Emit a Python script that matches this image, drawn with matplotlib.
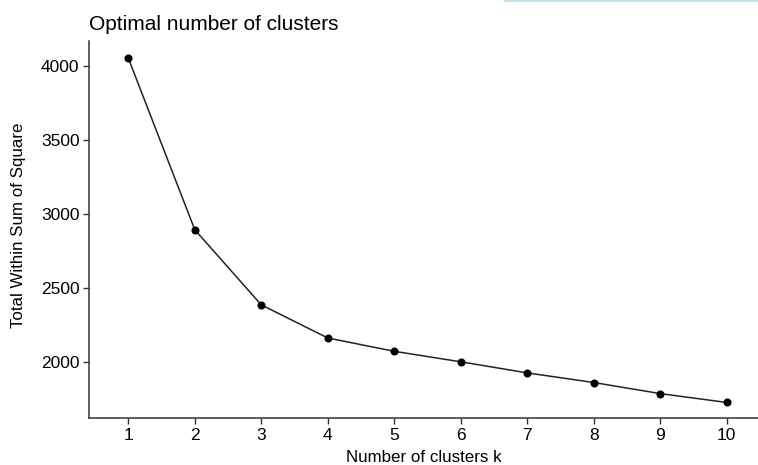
import matplotlib
matplotlib.use("Agg")
import matplotlib.pyplot as plt
from matplotlib.patches import Rectangle

plt.rcParams['font.family'] = ['Liberation Sans', 'DejaVu Sans']

k_values = [1, 2, 3, 4, 5, 6, 7, 8, 9, 10]
wss = [4054, 2893, 2385, 2161, 2071, 2000, 1925, 1860, 1785, 1725]
y_ticks = [2000, 2500, 3000, 3500, 4000]

fig = plt.figure(figsize=(7.58, 4.65), dpi=100)
ax = fig.add_axes([89.3 / 758, 1 - 418.3 / 465, 1 - 89.3 / 758, (418.3 - 40.7) / 465])

ink = '#222222'
ax.plot(k_values, wss, color=ink, linewidth=1.1, marker='o', markersize=4.8,
        markerfacecolor='black', markeredgecolor='black')

ax.set_xlim(0.414, 10.47)
ax.set_ylim(1618, 4171)
ax.set_xticks(k_values)
ax.set_yticks(y_ticks)

for side in ('top', 'right'):
    ax.spines[side].set_visible(False)
for side in ('left', 'bottom'):
    ax.spines[side].set_color('#333333')
    ax.spines[side].set_linewidth(1.1)

ax.tick_params(axis='both', direction='out', length=4, width=1, color='#333333',
               labelsize=12.5, labelcolor='black', pad=3)

ax.set_xlabel('Number of clusters k', fontsize=12.2, va='center')
ax.set_ylabel('Total Within Sum of Square', fontsize=12.2, va='center')
ax.xaxis.set_label_coords(0.5, -0.1025)
ax.yaxis.set_label_coords(-0.1066, 0.512)
ax.set_title('Optimal number of clusters', fontsize=15, loc='left', pad=8)

# thin light-blue band along the top edge on the right
fig.patches.append(Rectangle((504 / 758, 1 - 2 / 465), 254 / 758, 2 / 465,
                             transform=fig.transFigure, facecolor='#c4e6ee',
                             edgecolor='none'))

fig.savefig('out.png', dpi=100)
